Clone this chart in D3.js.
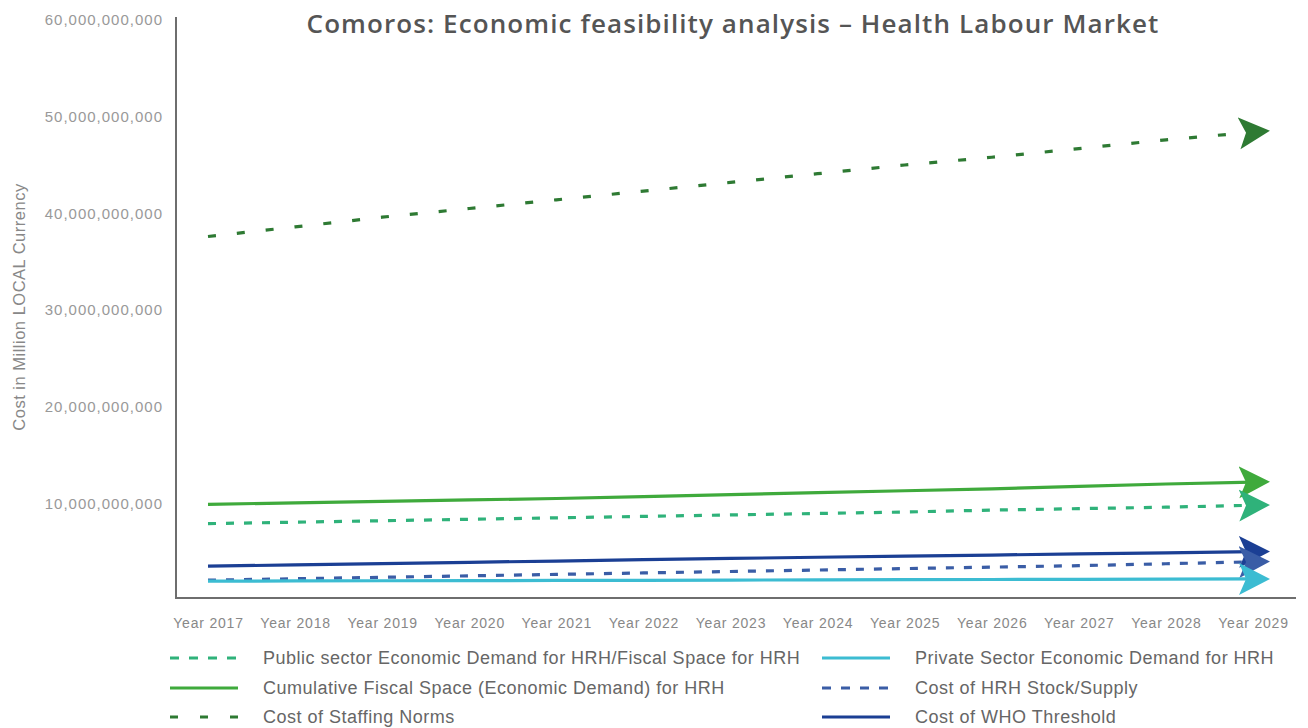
<!DOCTYPE html>
<html>
<head>
<meta charset="utf-8">
<script src="https://cdn.jsdelivr.net/npm/d3@7"></script>
<style>
  html, body { margin: 0; padding: 0; background: #fff; }
  svg { display: block; }
  .tick text { font-family: "Liberation Sans", Arial, sans-serif; }
</style>
</head>
<body>
<svg id="chart" width="1308" height="728"></svg>
<script>
// Years on the horizontal axis
const years = ["Year 2017","Year 2018","Year 2019","Year 2020","Year 2021","Year 2022","Year 2023",
               "Year 2024","Year 2025","Year 2026","Year 2027","Year 2028","Year 2029"];

// Y-axis tick values
const yTicks = [10e9, 20e9, 30e9, 40e9, 50e9, 60e9];

// Series values (billions of local currency)
const staffingNorms   = [37.6, 38.6, 39.6, 40.5, 41.4, 42.3, 43.2, 44.1, 45.0, 45.8, 46.7, 47.6, 48.4];
const cumulativeFiscal = [9.9, 10.05, 10.2, 10.35, 10.5, 10.7, 10.9, 11.1, 11.3, 11.5, 11.75, 12.0, 12.2];
const publicDemand    = [7.9, 8.05, 8.2, 8.35, 8.5, 8.65, 8.8, 8.95, 9.1, 9.3, 9.45, 9.6, 9.8];
const whoThreshold    = [3.5, 3.63, 3.77, 3.9, 4.03, 4.17, 4.3, 4.42, 4.53, 4.65, 4.77, 4.88, 5.0];
const hrhStock        = [2.05, 2.2, 2.35, 2.5, 2.65, 2.8, 2.95, 3.1, 3.25, 3.4, 3.55, 3.75, 3.95];
const privateDemand   = [1.95, 1.97, 1.99, 2.0, 2.02, 2.04, 2.06, 2.08, 2.1, 2.12, 2.14, 2.16, 2.18];

// Series names as shown in the legend
const seriesNames = [
  "Public sector Economic Demand for HRH/Fiscal Space for HRH",
  "Cumulative Fiscal Space (Economic Demand) for HRH",
  "Cost of Staffing Norms",
  "Private Sector Economic Demand for HRH",
  "Cost of HRH Stock/Supply",
  "Cost of WHO Threshold"
];

const B = 1e9;
const series = [
  { name: seriesNames[0], values: publicDemand,     color: "#2fb27a", dash: "8,10",  legendDash: "9,10" },
  { name: seriesNames[1], values: cumulativeFiscal, color: "#3faa3c", dash: null,    legendDash: null },
  { name: seriesNames[2], values: staffingNorms,    color: "#2e7a33", dash: "8,21",  legendDash: "8,22" },
  { name: seriesNames[3], values: privateDemand,    color: "#3cbcd2", dash: null,    legendDash: null },
  { name: seriesNames[4], values: hrhStock,         color: "#3a5da6", dash: "8,10",  legendDash: "9,10" },
  { name: seriesNames[5], values: whoThreshold,     color: "#1b3f94", dash: null,    legendDash: null }
];
// Drawing order (back to front)
const drawOrder = [2, 1, 0, 5, 4, 3];

const svg = d3.select("#chart");

const x = d3.scalePoint().domain(years).range([208, 1253]);
const y = d3.scaleLinear().domain([0, 60e9]).range([600, 20]);

// Title
svg.append("text")
  .attr("x", 733).attr("y", 33)
  .attr("text-anchor", "middle")
  .attr("font-family", "'Open Sans', 'Liberation Sans', Arial, sans-serif")
  .attr("font-weight", 600)
  .attr("font-size", 26)
  .attr("letter-spacing", 1.1)
  .attr("fill", "#555")
  .text("Comoros: Economic feasibility analysis \u2013 Health Labour Market");

// Y axis labels
const yAxis = d3.axisLeft(y)
  .tickValues(yTicks)
  .tickFormat(d3.format(","))
  .tickSize(0)
  .tickPadding(13);
const gy = svg.append("g").attr("transform", "translate(176,0)").call(yAxis);
gy.select(".domain").remove();
gy.selectAll("text")
  .attr("font-size", 15)
  .attr("letter-spacing", 1)
  .attr("fill", "#999");

// X axis labels
const xAxis = d3.axisBottom(x).tickSize(0).tickPadding(20);
const gx = svg.append("g").attr("transform", "translate(0,598)").call(xAxis);
gx.select(".domain").remove();
gx.selectAll("text")
  .attr("font-size", 14)
  .attr("letter-spacing", 0.8)
  .attr("fill", "#888");

// Axis lines
svg.append("line")
  .attr("x1", 176).attr("x2", 176).attr("y1", 17).attr("y2", 599)
  .attr("stroke", "#6e6e6e").attr("stroke-width", 2);
svg.append("line")
  .attr("x1", 175).attr("x2", 1296).attr("y1", 598).attr("y2", 598)
  .attr("stroke", "#6e6e6e").attr("stroke-width", 2);

// Y axis title
svg.append("text")
  .attr("transform", "translate(25,307) rotate(-90)")
  .attr("text-anchor", "middle")
  .attr("font-family", "'Liberation Sans', Arial, sans-serif")
  .attr("font-size", 16.5)
  .attr("letter-spacing", 0.5)
  .attr("fill", "#888")
  .text("Cost in Million LOCAL Currency");

// Arrowhead markers
const defs = svg.append("defs");
series.forEach((s, i) => {
  defs.append("marker")
    .attr("id", "arrow" + i)
    .attr("markerUnits", "userSpaceOnUse")
    .attr("viewBox", "0 0 32 34")
    .attr("markerWidth", 32).attr("markerHeight", 34)
    .attr("refX", 14).attr("refY", 17)
    .attr("orient", "auto")
    .append("path")
    .attr("d", "M0,1 L31,17 L0,33 L7,17 Z")
    .attr("fill", s.color);
});

// Lines
const line = d3.line()
  .x((d, i) => x(years[i]))
  .y(d => y(d * B));

drawOrder.forEach(i => {
  const s = series[i];
  svg.append("path")
    .datum(s.values)
    .attr("d", line)
    .attr("fill", "none")
    .attr("stroke", s.color)
    .attr("stroke-width", 3.2)
    .attr("stroke-dasharray", s.dash)
    .attr("marker-end", `url(#arrow${i})`);
});

// Legend
const legendCols = [170, 822];
const legendRows = [658, 688, 717];
series.forEach((s, i) => {
  const col = Math.floor(i / 3), row = i % 3;
  const lx = legendCols[col], ly = legendRows[row];
  svg.append("line")
    .attr("x1", lx).attr("x2", lx + 68)
    .attr("y1", ly).attr("y2", ly)
    .attr("stroke", s.color)
    .attr("stroke-width", 3.2)
    .attr("stroke-dasharray", s.legendDash);
  svg.append("text")
    .attr("x", lx + 93).attr("y", ly)
    .attr("dy", "0.35em")
    .attr("font-family", "'Liberation Sans', Arial, sans-serif")
    .attr("font-size", 18)
    .attr("letter-spacing", 0.5)
    .attr("fill", "#666")
    .text(s.name);
});
</script>
</body>
</html>
